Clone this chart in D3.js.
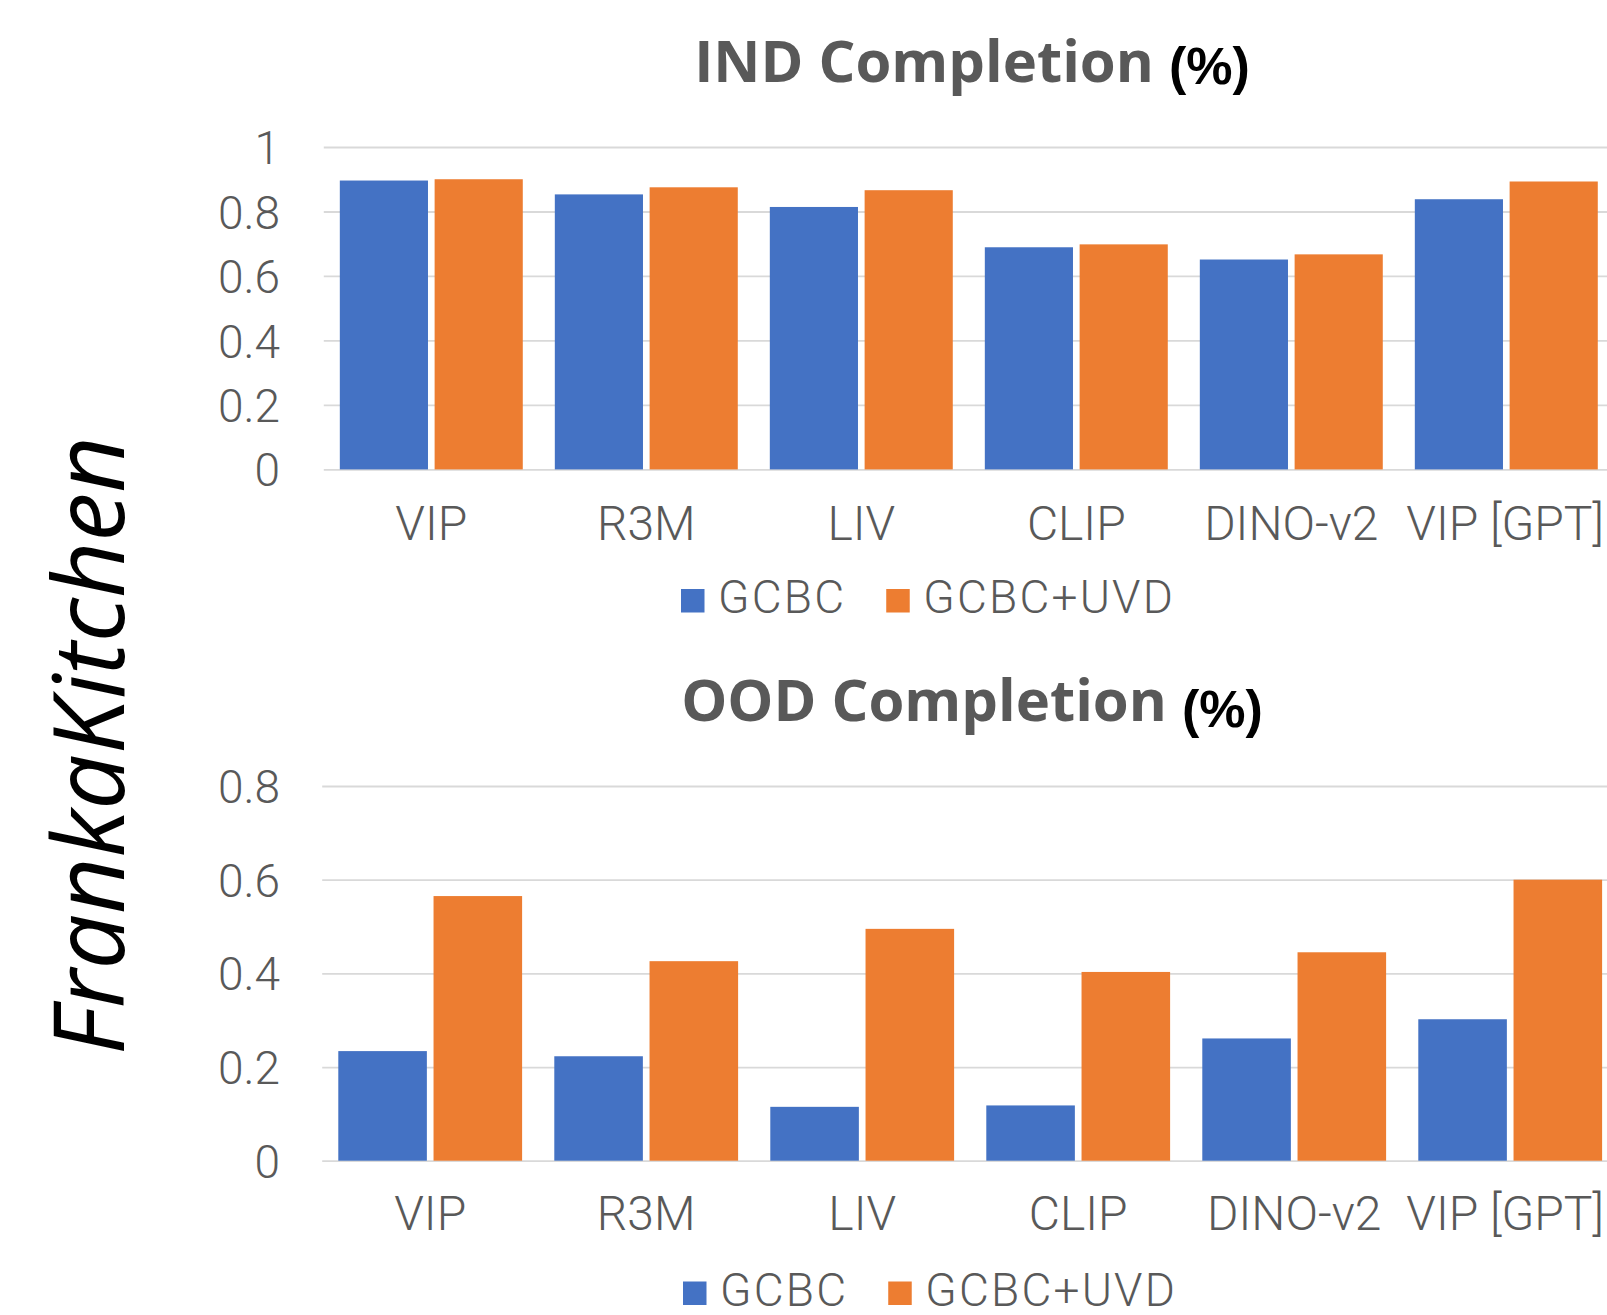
<!DOCTYPE html>
<html>
<head>
<meta charset="utf-8">
<script src="https://cdn.jsdelivr.net/npm/d3@7"></script>
<style>
  html, body { margin: 0; padding: 0; background: #ffffff; }
  svg { display: block; }
</style>
</head>
<body>
<svg id="chart" width="1607" height="1315"></svg>
<script>
// Method names along the x axis
const categories = ["VIP", "R3M", "LIV", "CLIP", "DINO-v2", "VIP [GPT]"];
// The two policy variants compared in each group
const series = ["GCBC", "GCBC+UVD"];
const seriesColors = ["#4472C4", "#ED7D31"];

// In-distribution task completion
const indGCBC = [0.896, 0.853, 0.814, 0.689, 0.651, 0.838];
const indUVD  = [0.900, 0.875, 0.866, 0.698, 0.667, 0.893];

// Out-of-distribution task completion
const oodGCBC = [0.234, 0.223, 0.115, 0.118, 0.261, 0.302];
const oodUVD  = [0.565, 0.426, 0.495, 0.403, 0.445, 0.600];

// Value-axis ticks
const indTicks = [0, 0.2, 0.4, 0.6, 0.8, 1];
const indTickLabels = ["0", "0.2", "0.4", "0.6", "0.8", "1"];
const oodTicks = [0, 0.2, 0.4, 0.6, 0.8];
const oodTickLabels = ["0", "0.2", "0.4", "0.6", "0.8"];

const svg = d3.select("#chart");
const WIDTH = 1607;
const GRAY = "#595959";
const LABEL_FONT = "Roboto, 'Noto Sans', 'DejaVu Sans', sans-serif";
const TITLE_FONT = "'Open Sans', 'Noto Sans', 'DejaVu Sans', sans-serif";

function drawPanel(cfg) {
  const g = svg.append("g");
  const step = cfg.step;
  const x0 = d3.scaleBand()
    .domain(categories)
    .range([cfg.left, cfg.left + step * categories.length])
    .padding(0);
  const groupGap = step * 0.149;
  const x1 = d3.scaleBand()
    .domain(series)
    .range([groupGap / 2, step - groupGap / 2])
    .paddingInner(0.07)
    .paddingOuter(0);
  const y = d3.scaleLinear().domain(cfg.domain).range([cfg.bottom, cfg.top]);

  // horizontal gridlines and value labels
  const yAxis = d3.axisLeft(y)
    .tickValues(cfg.ticks)
    .tickSize(-(WIDTH - cfg.left + 20))
    .tickFormat((d, i) => cfg.tickLabels[i]);
  const ga = g.append("g")
    .attr("transform", `translate(${cfg.left},0)`)
    .call(yAxis);
  ga.select(".domain").remove();
  ga.selectAll(".tick line")
    .attr("stroke", "#d9d9d9")
    .attr("stroke-width", 1.8);
  ga.selectAll(".tick text")
    .attr("x", -(cfg.left - 280))
    .attr("dy", "0.36em")
    .attr("fill", GRAY)
    .style("font-family", LABEL_FONT)
    .style("font-weight", 300)
    .style("font-size", "46px");

  // grouped bars
  const rows = categories.map((c, i) => ({ cat: c, vals: [cfg.a[i], cfg.b[i]] }));
  const groups = g.selectAll("g.grp").data(rows).join("g")
    .attr("class", "grp")
    .attr("transform", d => `translate(${x0(d.cat)},0)`);
  groups.selectAll("rect")
    .data(d => d.vals.map((v, k) => ({ s: series[k], v, k })))
    .join("rect")
    .attr("x", d => x1(d.s))
    .attr("width", x1.bandwidth())
    .attr("y", d => y(d.v))
    .attr("height", d => y(0) - y(d.v))
    .attr("fill", d => seriesColors[d.k]);

  // category labels, kept inside the right edge
  const xAxis = d3.axisBottom(x0).tickSize(0).tickPadding(0);
  const gx = g.append("g")
    .attr("transform", `translate(0,${cfg.labelBaseline})`)
    .call(xAxis);
  gx.select(".domain").remove();
  gx.selectAll(".tick text")
    .attr("y", 0)
    .attr("dy", 0)
    .attr("fill", GRAY)
    .style("font-family", LABEL_FONT)
    .style("font-weight", 300)
    .style("font-size", "48px")
    .each(function (d) {
      const center = x0(d) + x0.bandwidth() / 2;
      const w = this.getComputedTextLength();
      const overflow = center + w / 2 - (WIDTH - 3);
      if (overflow > 0) d3.select(this).attr("x", -overflow);
    });

  // title
  const t = g.append("text")
    .attr("x", 972)
    .attr("y", cfg.titleBaseline)
    .attr("text-anchor", "middle");
  t.append("tspan")
    .text(cfg.title + " ")
    .attr("fill", GRAY)
    .style("font-family", TITLE_FONT)
    .style("font-weight", 700)
    .style("font-size", "58px");
  t.append("tspan")
    .text("(%)")
    .attr("dy", cfg.pctShift)
    .attr("fill", "#000000")
    .style("font-family", "'Liberation Sans', Arial, sans-serif")
    .style("font-weight", 700)
    .style("font-size", "52px");

  // legend
  const lg = g.append("g");
  let cx = cfg.legendX;
  series.forEach((s, k) => {
    lg.append("rect")
      .attr("x", cx)
      .attr("y", cfg.legendBaseline - 24)
      .attr("width", 23.5)
      .attr("height", 23.5)
      .attr("fill", seriesColors[k]);
    const txt = lg.append("text")
      .attr("x", cx + 37)
      .attr("y", cfg.legendBaseline)
      .attr("fill", GRAY)
      .style("font-family", LABEL_FONT)
      .style("font-weight", 300)
      .style("font-size", "46px")
      .style("letter-spacing", "2.2px")
      .text(s);
    cx = cx + 37 + txt.node().getComputedTextLength() + 40;
  });
}

drawPanel({
  title: "IND Completion",
  titleBaseline: 82,
  pctShift: 1.5,
  left: 323.8, step: 215.0,
  top: 147, bottom: 469.4,
  domain: [0, 1],
  ticks: indTicks, tickLabels: indTickLabels,
  a: indGCBC, b: indUVD,
  labelBaseline: 539.5,
  legendX: 681, legendBaseline: 613
});

drawPanel({
  title: "OOD Completion",
  titleBaseline: 721,
  pctShift: 6,
  left: 322.2, step: 216.0,
  top: 786, bottom: 1160.7,
  domain: [0, 0.8],
  ticks: oodTicks, tickLabels: oodTickLabels,
  a: oodGCBC, b: oodUVD,
  labelBaseline: 1229.5,
  legendX: 683, legendBaseline: 1305.5
});

// environment name down the left side
svg.append("text")
  .attr("transform", "translate(124,745.6) rotate(-90)")
  .attr("text-anchor", "middle")
  .attr("fill", "#000000")
  .style("font-family", TITLE_FONT)
  .style("font-style", "italic")
  .style("font-weight", 400)
  .style("font-size", "98px")
  .text("FrankaKitchen");
</script>
</body>
</html>
